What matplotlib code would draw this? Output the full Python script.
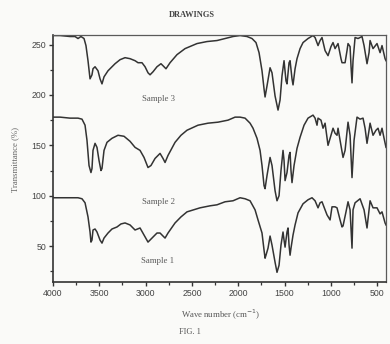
import matplotlib
matplotlib.use("Agg")
import matplotlib.pyplot as plt
from matplotlib.ticker import MultipleLocator

# ---------------- data ----------------
s3_wn = [4000, 3924, 3816, 3762, 3730, 3698, 3665, 3644, 3622, 3600, 3579, 3568, 3546, 3514, 3492, 3471,
         3449, 3406, 3330, 3276, 3222, 3168, 3114, 3082, 3039, 3006, 2974, 2952, 2920, 2877, 2834, 2812,
         2780, 2736, 2661, 2574, 2445, 2337, 2229, 2142, 2056, 1980, 1905, 1851, 1808, 1775, 1743, 1721,
         1710, 1689, 1656, 1635, 1602, 1570, 1548, 1527, 1505, 1484, 1473, 1451, 1440, 1419, 1408, 1386,
         1365, 1332, 1300, 1246, 1192, 1170, 1138, 1116, 1095, 1062, 1030, 998, 976, 954, 922, 890, 879,
         846, 825, 814, 792, 782, 771, 760, 738, 706, 663, 641, 609, 587, 576, 544, 501, 468, 447, 414, 404]
s3_t = [259, 259, 258, 258, 256, 258, 256, 249, 234, 216, 220, 226, 228, 224, 216, 211,
        218, 224, 231, 235, 237, 236, 234, 232, 232, 228, 222, 220, 223, 228, 231, 229,
        226, 232, 240, 246, 251, 253, 254, 256, 258, 259, 258, 256, 252, 242, 224, 206,
        198, 209, 227, 222, 199, 185, 195, 219, 234, 214, 211, 232, 234, 216, 210, 226,
        236, 246, 252, 256, 259, 257, 249, 254, 257, 244, 239, 248, 252, 246, 251, 236, 232,
        232, 244, 251, 248, 229, 212, 234, 257, 256, 258, 249, 231, 242, 254, 246, 251, 242, 249, 236, 234]

s2_wn = [4000, 3924, 3816, 3730, 3687, 3654, 3633, 3611, 3590, 3579, 3568, 3546, 3525, 3503, 3482, 3471,
         3449, 3417, 3363, 3298, 3233, 3168, 3114, 3060, 3017, 2974, 2942, 2898, 2844, 2812, 2790, 2758,
         2682, 2618, 2553, 2434, 2326, 2218, 2110, 2034, 1980, 1926, 1872, 1840, 1797, 1764, 1743, 1721,
         1710, 1689, 1656, 1635, 1602, 1581, 1559, 1538, 1516, 1505, 1494, 1473, 1451, 1440, 1430, 1419,
         1397, 1365, 1332, 1289, 1246, 1192, 1170, 1149, 1138, 1106, 1084, 1062, 1030, 998, 976, 954,
         933, 922, 900, 868, 846, 814, 792, 771, 749, 717, 684, 652, 630, 609, 587, 576, 544, 512, 490,
         468, 447, 425, 404]
s2_t = [178, 178, 177, 177, 176, 170, 155, 130, 123, 127, 145, 152, 148, 135, 125, 127,
        145, 153, 157, 160, 159, 154, 148, 145, 138, 128, 130, 137, 142, 137, 133, 140,
        153, 160, 165, 170, 172, 173, 175, 178, 178, 177, 172, 167, 157, 145, 130, 110,
        107, 120, 138, 130, 105, 95, 100, 125, 145, 135, 115, 123, 140, 143, 125, 113,
        130, 147, 158, 170, 177, 180, 177, 170, 177, 175, 167, 172, 150, 160, 167, 162,
        160, 167, 155, 138, 145, 173, 160, 118, 155, 178, 176, 177, 167, 152, 165, 172, 160, 165, 167,
        160, 167, 157, 148]

s1_wn = [4000, 3924, 3816, 3730, 3687, 3654, 3622, 3600, 3590, 3579, 3568, 3546, 3525, 3492, 3471, 3449,
         3406, 3363, 3309, 3266, 3222, 3168, 3114, 3060, 3017, 2974, 2931, 2877, 2844, 2812, 2790, 2758,
         2682, 2618, 2553, 2412, 2304, 2229, 2142, 2056, 1980, 1926, 1872, 1818, 1786, 1743, 1721, 1710,
         1700, 1678, 1656, 1635, 1602, 1581, 1559, 1538, 1516, 1505, 1494, 1473, 1462, 1451, 1440, 1430,
         1408, 1386, 1354, 1300, 1246, 1203, 1170, 1138, 1116, 1095, 1062, 1041, 1008, 987, 954, 933,
         900, 879, 868, 836, 814, 792, 771, 760, 738, 684, 641, 609, 587, 576, 544, 501, 468, 447, 414, 404]
s1_t = [98, 98, 98, 98, 97, 93, 79, 64, 54, 56, 66, 67, 64, 56, 53, 58,
        63, 67, 69, 72, 73, 71, 66, 68, 61, 54, 58, 63, 63, 60, 58, 63,
        73, 79, 84, 88, 90, 91, 94, 95, 98, 97, 95, 86, 76, 63, 46, 38,
        41, 48, 60, 51, 34, 24, 31, 51, 64, 56, 49, 64, 68, 51, 41, 48,
        61, 71, 83, 92, 96, 98, 95, 88, 93, 94, 86, 81, 76, 89, 89, 88,
        76, 69, 70, 84, 94, 86, 48, 86, 93, 97, 86, 68, 86, 95, 88, 88, 82, 84, 73, 71]

sample_names = ["Sample 1", "Sample 2", "Sample 3"]
label_pos = [(2866, 35), (2866, 94), (2866, 196)]

x_ticks = [4000, 3500, 3000, 2500, 2000, 1500, 1000, 500]
y_ticks = [50, 100, 150, 200, 250]

# ---------------- figure ----------------
W, H = 390, 344
bg = "#fafaf8"
fig = plt.figure(figsize=(W / 100, H / 100), dpi=100, facecolor=bg)
ax = fig.add_axes([53 / W, 1 - 282 / H, (386 - 53) / W, (282 - 35) / H], facecolor=bg)

line_col = "#333333"
for wn, t in [(s1_wn, s1_t), (s2_wn, s2_t), (s3_wn, s3_t)]:
    ax.plot(wn, t, color=line_col, lw=1.1, solid_joinstyle="round")

ax.set_xlim(4000, 404)
ax.set_ylim(14.4, 259.5)

ax.set_xticks(x_ticks)
ax.set_yticks(y_ticks)
ax.xaxis.set_minor_locator(MultipleLocator(250))
ax.yaxis.set_minor_locator(MultipleLocator(25))
ax.tick_params(axis="both", which="major", direction="out", length=3, width=1.0,
               labelsize=6.3, colors="#333333", pad=2)
ax.tick_params(axis="both", which="minor", direction="out", length=2, width=0.9, colors="#333333")
for lab in ax.get_xticklabels() + ax.get_yticklabels():
    lab.set_family("Liberation Sans")
    lab.set_color("#444444")

for side in ["left", "bottom"]:
    ax.spines[side].set_linewidth(1.2)
    ax.spines[side].set_color("#333333")
for side in ["top", "right"]:
    ax.spines[side].set_linewidth(0.9)
    ax.spines[side].set_color("#5a5a5a")

for name, (x, y) in zip(sample_names, label_pos):
    ax.text(x, y, name, ha="center", va="center", fontsize=6.3, family="Liberation Serif",
            color="#5a5a5a")

fig.text(192 / W, 1 - 15 / H, "DRAWINGS", ha="center", va="center", fontsize=6,
         family="Liberation Serif", fontweight="bold", color="#444444")
fig.text(220 / W, 1 - 315 / H, "Wave number (cm$^{-1}$)", ha="center", va="center", fontsize=6.3,
         family="Liberation Serif", color="#555555")
fig.text(190 / W, 1 - 332 / H, "FIG. 1", ha="center", va="center", fontsize=6,
         family="Liberation Serif", color="#555555")
fig.text(15 / W, 1 - 160 / H, "Transmittance (%)", ha="center", va="center", rotation=90,
         fontsize=6.3, family="Liberation Serif", color="#666666")

fig.savefig("out.png", dpi=100, facecolor=bg)
